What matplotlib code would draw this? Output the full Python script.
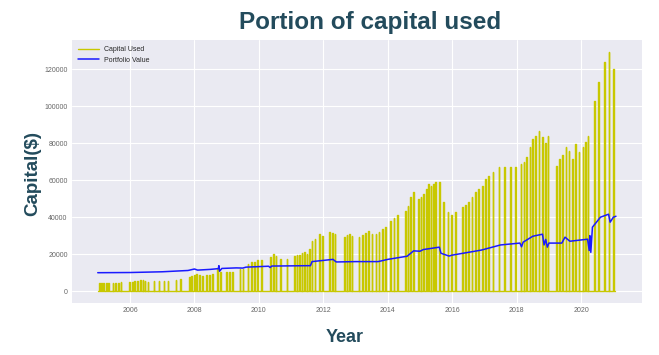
import numpy as np
import matplotlib
matplotlib.use("Agg")
import matplotlib.pyplot as plt

# --- data ------------------------------------------------------------------
# each trade: entry (decimal year), holding days, capital used ($)
trade_entry = [
    2005.03, 2005.10, 2005.17, 2005.25, 2005.33, 2005.46, 2005.54, 2005.63, 2005.71,
    2005.98, 2006.06, 2006.14, 2006.22, 2006.30, 2006.39, 2006.46, 2006.56, 2006.74,
    2006.90, 2007.05, 2007.18, 2007.42, 2007.56, 2007.82, 2007.90, 2007.98, 2008.06,
    2008.15, 2008.25, 2008.35, 2008.45, 2008.55, 2008.70, 2008.80, 2008.98, 2009.08,
    2009.18, 2009.40, 2009.50, 2009.65, 2009.75, 2009.85, 2009.95, 2010.08, 2010.35,
    2010.44, 2010.52, 2010.66, 2010.87, 2011.09, 2011.17, 2011.25, 2011.33, 2011.41,
    2011.49, 2011.55, 2011.64, 2011.73, 2011.88, 2011.96, 2012.19, 2012.28, 2012.36,
    2012.65, 2012.72, 2012.80, 2012.88, 2013.10, 2013.20, 2013.30, 2013.40, 2013.50,
    2013.62, 2013.72, 2013.82, 2013.92, 2014.08, 2014.18, 2014.28, 2014.54, 2014.62,
    2014.70, 2014.79, 2014.94, 2015.02, 2015.10, 2015.18, 2015.26, 2015.33, 2015.40,
    2015.47, 2015.60, 2015.72, 2015.86, 2015.96, 2016.08, 2016.31, 2016.40, 2016.50,
    2016.60, 2016.70, 2016.80, 2016.92, 2017.02, 2017.12, 2017.25, 2017.45, 2017.62,
    2017.80, 2017.95, 2018.12, 2018.22, 2018.30, 2018.40, 2018.48, 2018.58, 2018.68,
    2018.78, 2018.88, 2018.96, 2019.22, 2019.32, 2019.42, 2019.52, 2019.62, 2019.72,
    2019.82, 2019.92, 2020.05, 2020.13, 2020.20, 2020.41, 2020.53, 2020.72, 2020.85,
    2021.00,
]
trade_days = [
    10, 10, 10, 10, 8, 10, 10, 10, 8,
    10, 10, 10, 10, 10, 10, 8, 5, 5,
    5, 5, 5, 8, 8, 10, 10, 10, 10,
    10, 10, 10, 10, 10, 8, 8, 8, 8,
    8, 8, 6, 8, 10, 10, 10, 10, 8,
    8, 6, 5, 5, 8, 8, 8, 8, 8,
    6, 8, 8, 8, 8, 6, 8, 8, 6,
    8, 8, 8, 6, 8, 8, 8, 8, 6,
    8, 8, 8, 10, 8, 8, 8, 8, 8,
    8, 8, 8, 8, 8, 8, 8, 8, 8,
    8, 6, 6, 8, 8, 8, 8, 8, 8,
    8, 8, 8, 8, 8, 8, 6, 5, 5,
    5, 5, 8, 8, 8, 8, 8, 8, 8,
    8, 6, 6, 6, 6, 6, 6, 6, 6,
    6, 6, 6, 6, 6, 6, 6, 6, 6,
    5,
]
trade_capital = [
    4300, 4200, 4400, 4300, 4200, 4500, 4700, 4600, 4800,
    5000, 5200, 5300, 5600, 5800, 5900, 5600, 5200, 5300,
    5400, 5500, 5500, 6200, 6600, 7500, 8200, 8700, 9300,
    8600, 8400, 8600, 8900, 9300, 11900, 10500, 10300, 10600,
    10400, 12000, 11800, 14500, 15700, 16000, 16800, 16800, 18400,
    20000, 19000, 17300, 17300, 18900, 19500, 19500, 20500, 21000,
    20000, 22700, 27000, 28100, 30800, 30000, 31900, 31400, 30800,
    29200, 30300, 30800, 29700, 29200, 30300, 31400, 32400, 30800,
    30800, 31900, 33500, 34600, 37800, 39500, 41100, 43200, 46000,
    50800, 53500, 49700, 51000, 52400, 55000, 57800, 56700, 57800,
    58900, 58900, 48100, 42700, 41100, 42700, 45400, 46500, 48100,
    50800, 53500, 55000, 56700, 60500, 62000, 64300, 67000, 67000,
    67000, 67000, 68600, 70000, 72400, 78000, 82100, 83800, 86500,
    83200, 80000, 83800, 67600, 71300, 73500, 77800, 75700, 71300,
    79500, 75100, 77800, 80500, 83800, 102700, 113000, 123800, 129200,
    120000,
]

# portfolio value, key points (decimal year, $)
pv_year = [
    2005.00, 2006.00, 2007.00, 2007.80, 2008.00, 2008.10, 2008.50, 2008.74, 2008.76,
    2008.78, 2008.85, 2009.30, 2009.50, 2009.60, 2010.30, 2010.35, 2010.40, 2011.60,
    2011.65, 2012.30, 2012.40, 2013.00, 2013.70, 2014.00, 2014.60, 2014.80, 2015.00,
    2015.10, 2015.60, 2015.65, 2015.90, 2016.00, 2016.50, 2016.90, 2017.50, 2018.10,
    2018.15, 2018.20, 2018.50, 2018.80, 2018.85, 2018.90, 2018.95, 2019.00, 2019.40,
    2019.50, 2019.65, 2020.20, 2020.25, 2020.27, 2020.30, 2020.35, 2020.60, 2020.85,
    2020.90, 2021.00, 2021.08,
]
pv_value = [
    10000, 10100, 10500, 11200, 12000, 11400, 11800, 12200, 13800,
    10800, 12300, 12600, 12500, 13000, 13500, 12800, 13600, 13800,
    16000, 17200, 15800, 16000, 16000, 17200, 18900, 21800, 21600,
    22500, 23800, 20500, 19000, 19500, 21000, 22200, 25000, 26000,
    24000, 26500, 29700, 30800, 25000, 28000, 23800, 26000, 26000,
    29200, 27000, 28100, 22000, 30000, 21000, 34600, 40000, 41600,
    37300, 40000, 40500,
]

# build the capital-used trace: 0 between trades, flat while a trade is open
cap_x = [2005.0]
cap_y = [0]
for t0, d, c in zip(trade_entry, trade_days, trade_capital):
    t1 = t0 + d / 365.0
    cap_x += [t0, t0, t1, t1]
    cap_y += [0, c, c, 0]
cap_x.append(2021.05)
cap_y.append(0)

# --- figure ----------------------------------------------------------------
plt.style.use("seaborn-v0_8-darkgrid")
plt.rcParams["font.family"] = ["Liberation Sans", "DejaVu Sans"]

fig = plt.figure(figsize=(6.59, 3.55), dpi=100)
ax = fig.add_axes([0.109, 0.146, 0.865, 0.741])

ax.plot(cap_x, cap_y, color="#c8c800", lw=1.0, label="Capital Used")
ax.plot(pv_year, pv_value, color="#1a1aff", lw=1.1, label="Portfolio Value")

ax.set_xticks(np.arange(2006, 2021, 2))
ax.tick_params(labelsize=5, colors="#666666", length=0, pad=3)
ax.legend(loc="upper left", fontsize=5, frameon=False, handlelength=3)

title_color = "#234b5c"
fig.text(0.562, 0.938, "Portion of capital used", ha="center", va="center",
         fontsize=17.5, fontweight="bold", color=title_color)
fig.text(0.05, 0.512, "Capital($)", ha="center", va="center", rotation=90,
         fontsize=13.5, fontweight="bold", color=title_color)
fig.text(0.523, 0.05, "Year", ha="center", va="center",
         fontsize=13, fontweight="bold", color=title_color)

fig.savefig("out.png", dpi=100, facecolor="white")
